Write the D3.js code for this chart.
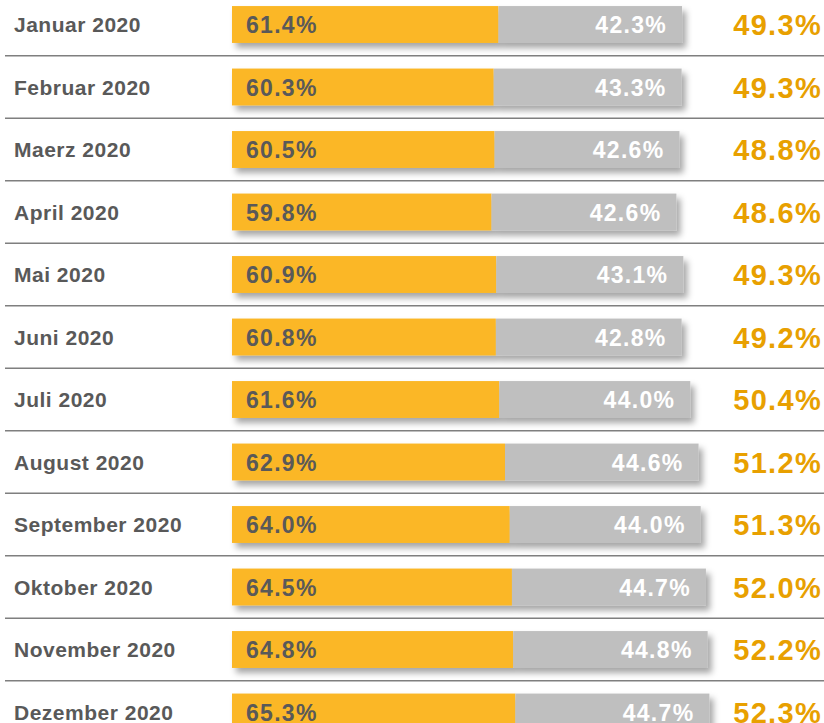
<!DOCTYPE html>
<html lang="de">
<head>
<meta charset="UTF-8">
<title>Anteile 2020</title>
<script src="https://d3js.org/d3.v7.min.js"></script>
<style>
  body { margin: 0; background: #fff; }
  svg text { font-family: "Liberation Sans", Arial, Helvetica, sans-serif; font-weight: bold; }
</style>
</head>
<body>
<div id="chart"></div>
<script>
// data
const months = ["Januar 2020", "Februar 2020", "Maerz 2020", "April 2020", "Mai 2020", "Juni 2020",
  "Juli 2020", "August 2020", "September 2020", "Oktober 2020", "November 2020", "Dezember 2020"];
const firstValues  = [61.4, 60.3, 60.5, 59.8, 60.9, 60.8, 61.6, 62.9, 64.0, 64.5, 64.8, 65.3];
const secondValues = [42.3, 43.3, 42.6, 42.6, 43.1, 42.8, 44.0, 44.6, 44.0, 44.7, 44.8, 44.7];
const totals       = [49.3, 49.3, 48.8, 48.6, 49.3, 49.2, 50.4, 51.2, 51.3, 52.0, 52.2, 52.3];

const width = 824, height = 723;
const rows = months.map((m, i) => ({ month: m, a: firstValues[i], b: secondValues[i], total: totals[i] }));

const svg = d3.select("#chart").append("svg")
  .attr("width", width)
  .attr("height", height);

// drop shadow for bars
const defs = svg.append("defs");
const f = defs.append("filter").attr("id", "shadow")
  .attr("x", "-5%").attr("y", "-30%").attr("width", "115%").attr("height", "190%");
f.append("feDropShadow")
  .attr("dx", 4).attr("dy", 5).attr("stdDeviation", 3)
  .attr("flood-color", "#000").attr("flood-opacity", 0.35);

const y = d3.scaleBand()
  .domain(months)
  .range([-6.75, -6.75 + 62.5 * months.length])
  .paddingInner(0.41)
  .paddingOuter(0.205);

const x = d3.scaleLinear()
  .domain([0, 110])
  .range([232, 232 + 477.4]);

const fmt = d => d.toFixed(1) + "%";

// separators
svg.append("g").selectAll("line")
  .data(rows.slice(0, -1))
  .join("line")
  .attr("x1", 5).attr("x2", width)
  .attr("y1", d => y(d.month) + y.bandwidth() / 2 + y.step() / 2)
  .attr("y2", d => y(d.month) + y.bandwidth() / 2 + y.step() / 2)
  .attr("stroke", "#7f7f7f")
  .attr("stroke-width", 1.5);

const row = svg.append("g").selectAll("g")
  .data(rows)
  .join("g")
  .attr("transform", d => `translate(0,${y(d.month)})`);

const bar = row.append("g").attr("filter", "url(#shadow)");
bar.append("rect")
  .attr("x", x(0))
  .attr("width", d => x(d.a) - x(0))
  .attr("height", y.bandwidth())
  .attr("fill", "#fbb726");
bar.append("rect")
  .attr("x", d => x(d.a))
  .attr("width", d => x(d.a + d.b) - x(d.a))
  .attr("height", y.bandwidth())
  .attr("fill", "#bfbfbf");

const mid = y.bandwidth() / 2;

row.append("text")
  .attr("x", 14)
  .attr("y", mid)
  .attr("dy", "0.36em")
  .attr("fill", "#595959")
  .style("font-size", "21px")
  .style("letter-spacing", "0.5px")
  .text(d => d.month);

row.append("text")
  .attr("x", x(0) + 14)
  .attr("y", mid)
  .attr("dy", "0.37em")
  .attr("fill", "#595959")
  .style("font-size", "23px")
  .style("letter-spacing", "1.3px")
  .text(d => fmt(d.a));

row.append("text")
  .attr("x", d => x(d.a + d.b) - 15)
  .attr("y", mid)
  .attr("dy", "0.37em")
  .attr("text-anchor", "end")
  .attr("fill", "#fff")
  .style("font-size", "23px")
  .style("letter-spacing", "1.3px")
  .text(d => fmt(d.b));

row.append("text")
  .attr("x", 822)
  .attr("y", mid)
  .attr("dy", "0.37em")
  .attr("text-anchor", "end")
  .attr("fill", "#e8a000")
  .style("font-size", "29px")
  .style("letter-spacing", "1.3px")
  .text(d => fmt(d.total));
</script>
</body>
</html>
